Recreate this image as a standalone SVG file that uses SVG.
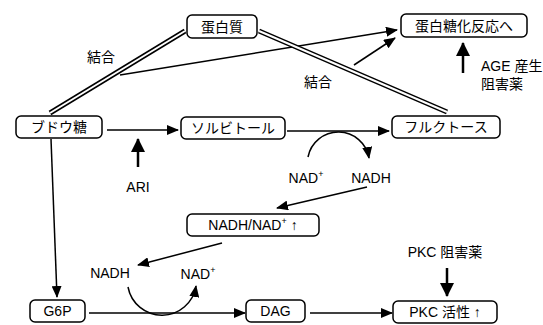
<svg xmlns="http://www.w3.org/2000/svg" width="543" height="325" viewBox="0 0 543 325">
<defs>
<style>
.box{fill:#fff;stroke:#000;stroke-width:1.5}
.t{font-family:"Liberation Sans","Noto Sans CJK JP",sans-serif;font-size:14px;fill:#000;text-anchor:middle;dominant-baseline:central}
.tl{font-family:"Liberation Sans","Noto Sans CJK JP",sans-serif;font-size:14px;fill:#000;dominant-baseline:central}
.ln{fill:none;stroke:#000;stroke-width:1.5}
.bold{fill:none;stroke:#000;stroke-width:2.5}
.dblo{fill:none;stroke:#000;stroke-width:5}
.dbli{fill:none;stroke:#fff;stroke-width:2}
</style>
<marker id="ah" viewBox="0 0 12 10" refX="11" refY="5" markerWidth="12" markerHeight="10" markerUnits="userSpaceOnUse" orient="auto">
<path d="M0,0 L12,5 L0,10 Z" fill="#000"/>
</marker>
<marker id="ahb" viewBox="0 0 14 14" refX="13" refY="7" markerWidth="16" markerHeight="14" markerUnits="userSpaceOnUse" orient="auto">
<path d="M0,0 L14,7 L0,14 Z" fill="#000"/>
</marker>
</defs>

<g id="connectors">
<path class="dblo" d="M50,113 L185,31"/>
<path class="dbli" d="M50,113 L185,31"/>
<path class="ln" d="M120,75 L397,30" marker-end="url(#ah)"/>
<path class="dblo" d="M259,31 L447,112"/>
<path class="dbli" d="M259,31 L447,112"/>
<path class="ln" d="M354,65 L395,38" stroke-width="2" marker-end="url(#ah)"/>
<path class="bold" d="M463,73 L463,43" marker-end="url(#ahb)"/>
<path class="ln" d="M107,130 L178,130" marker-end="url(#ah)"/>
<path class="bold" d="M138,167 L138,139" marker-end="url(#ahb)"/>
<path class="ln" d="M287,131 L389,131" marker-end="url(#ah)"/>
<path class="ln" d="M308,157 A31,31 0 0 1 369,158" marker-end="url(#ah)"/>
<path class="ln" d="M367,187 L277,208" stroke-width="2" marker-end="url(#ah)"/>
<path class="ln" d="M51,139 L57,297" marker-end="url(#ah)"/>
<path class="ln" d="M222,243 L138,265" stroke-width="2" marker-end="url(#ah)"/>
<path class="ln" d="M128,287 A34.5,34.5 0 0 0 196,286" marker-end="url(#ah)"/>
<path class="ln" d="M89,313 L245,313" marker-end="url(#ah)"/>
<path class="ln" d="M310,313 L392,313" marker-end="url(#ah)"/>
<path class="bold" d="M447,268 L447,296" marker-end="url(#ahb)"/>
</g>

<g id="protein">
<rect class="box" x="187" y="15" width="70" height="23" rx="5"/>
<text class="t" x="222" y="26.5">蛋白質</text>
</g>
<g id="glycation">
<rect class="box" x="401" y="14" width="126" height="23" rx="5"/>
<text class="t" x="464" y="25.5">蛋白糖化反応へ</text>
</g>
<g id="glucose">
<rect class="box" x="16" y="116" width="86" height="22" rx="5"/>
<text class="t" x="59" y="127">ブドウ糖</text>
</g>
<g id="sorbitol">
<rect class="box" x="181" y="117" width="104" height="22" rx="5"/>
<text class="t" x="233" y="128">ソルビトール</text>
</g>
<g id="fructose">
<rect class="box" x="392" y="116" width="108" height="22" rx="5"/>
<text class="t" x="446" y="127">フルクトース</text>
</g>
<g id="nadratio">
<rect class="box" x="187" y="214" width="132" height="22" rx="5"/>
<text class="t" x="253" y="225">NADH/NAD<tspan font-size="9" dy="-4">+</tspan><tspan dy="4"> ↑</tspan></text>
</g>
<g id="g6p">
<rect class="box" x="30" y="300" width="55" height="22" rx="5"/>
<text class="t" x="57.5" y="311">G6P</text>
</g>
<g id="dag">
<rect class="box" x="246" y="300" width="59" height="22" rx="5"/>
<text class="t" x="275.5" y="311">DAG</text>
</g>
<g id="pkc">
<rect class="box" x="393" y="301" width="104" height="22" rx="5"/>
<text class="t" x="445" y="312">PKC 活性 ↑</text>
</g>

<g id="labels">
<text class="t" x="101" y="57">結合</text>
<text class="t" x="318" y="82">結合</text>
<text class="tl" x="481" y="66">AGE 産生</text>
<text class="tl" x="481" y="84">阻害薬</text>
<text class="t" x="138" y="187">ARI</text>
<text class="t" x="306" y="178">NAD<tspan font-size="9" dy="-4">+</tspan></text>
<text class="t" x="371" y="178">NADH</text>
<text class="t" x="110" y="273">NADH</text>
<text class="t" x="198" y="274">NAD<tspan font-size="9" dy="-4">+</tspan></text>
<text class="t" x="445" y="252">PKC 阻害薬</text>
</g>
</svg>
